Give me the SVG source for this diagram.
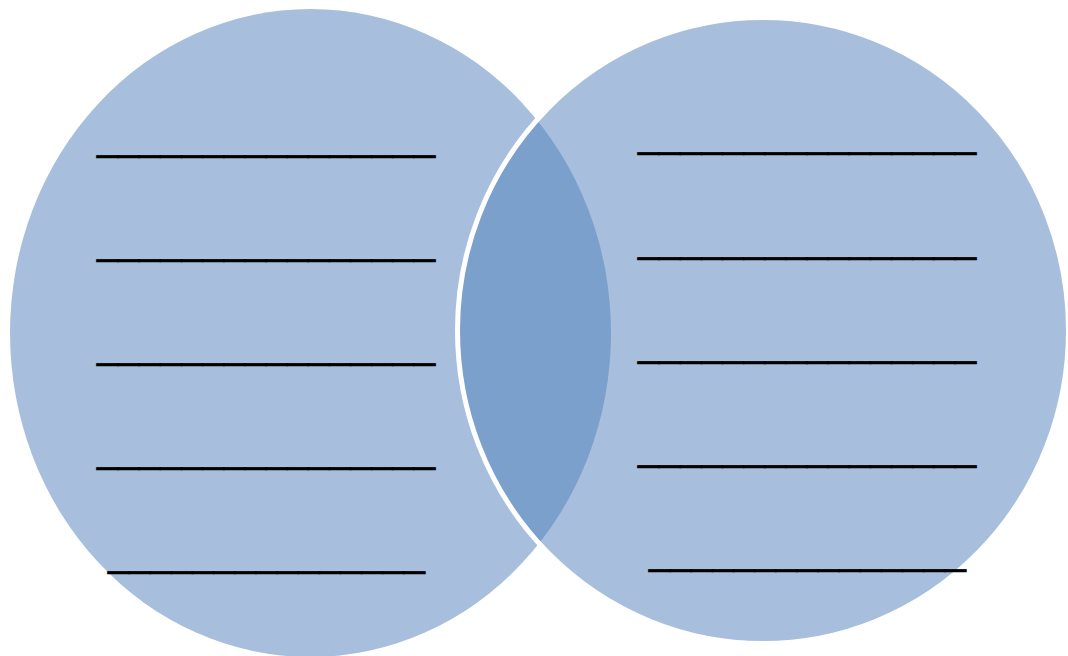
<svg xmlns="http://www.w3.org/2000/svg" width="1068" height="656" viewBox="0 0 1068 656">
<style>
.circ{fill:#A7BFDD}
.ovl{fill:#7BA0CC}
.ln{font-family:"Liberation Sans",Arial,sans-serif;font-size:38px;fill:#000;stroke:#000;stroke-width:0.7px}
</style>
<defs>
<clipPath id="clipR"><ellipse cx="763" cy="330.5" rx="305.5" ry="313"/></clipPath>
</defs>
<rect width="1068" height="656" fill="#fff"/>
<g id="left-circle">
<ellipse class="circ" cx="310.5" cy="333" rx="300.5" ry="324"/>
</g>
<g id="right-circle">
<ellipse class="circ" cx="763" cy="330.5" rx="305.5" ry="313"/>
</g>
<g id="overlap">
<ellipse class="ovl" cx="310.5" cy="333" rx="300.5" ry="324" clip-path="url(#clipR)"/>
<ellipse cx="763" cy="330.5" rx="305.5" ry="313" fill="none" stroke="#fff" stroke-width="5"/>
</g>
<g id="left-lines" class="ln">
<text x="97" y="150.4">________________</text>
<text x="97" y="254.4">________________</text>
<text x="97" y="358.4">________________</text>
<text x="97" y="462.4">________________</text>
<text x="108" y="566.4">_______________</text>
</g>
<g id="right-lines" class="ln">
<text x="638" y="147.4">________________</text>
<text x="638" y="252.4">________________</text>
<text x="638" y="356.4">________________</text>
<text x="638" y="460.4">________________</text>
<text x="649" y="564.4">_______________</text>
</g>
<g id="connectors"/>
</svg>
